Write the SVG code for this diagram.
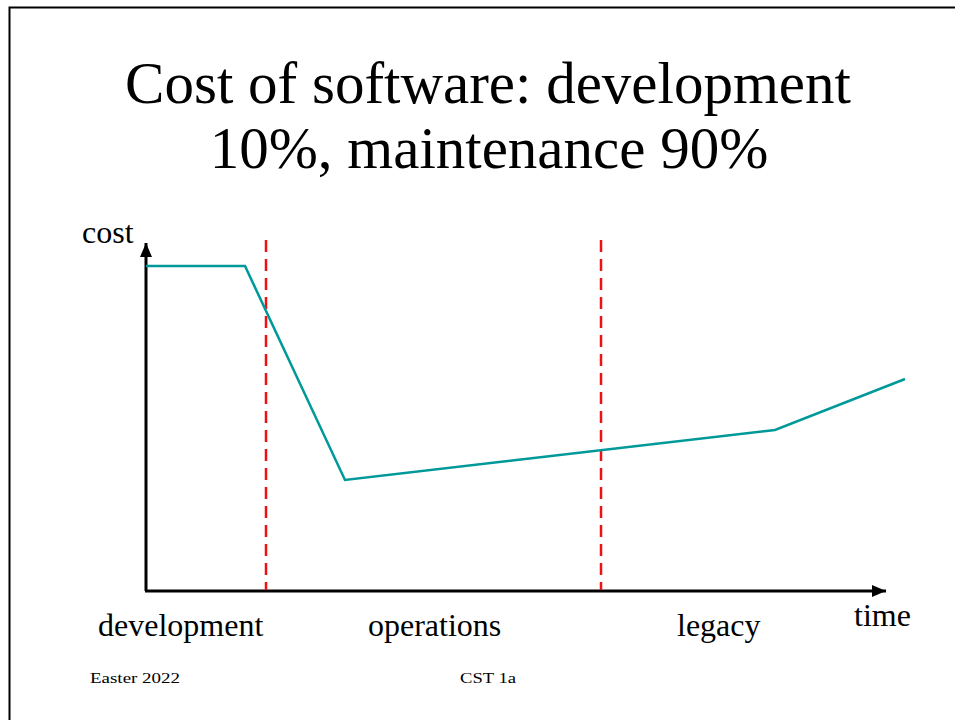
<svg xmlns="http://www.w3.org/2000/svg" width="955" height="720" viewBox="0 0 955 720">
<style>
.serif{font-family:"Liberation Serif","Times New Roman",serif;fill:#000}
.t{font-size:59px}
.l{font-size:32px}
.f{font-size:15px}
.ax{stroke:#000;stroke-width:3;fill:none}
.dash{stroke:#ee1111;stroke-width:2.5;stroke-dasharray:12 7;fill:none}
.curve{stroke:#009999;stroke-width:2.5;fill:none;stroke-linejoin:miter}
</style>
<defs>
<marker id="ah2" viewBox="0 0 14 12" refX="14" refY="6" markerWidth="14" markerHeight="12" orient="auto" markerUnits="userSpaceOnUse">
<path d="M0,0 L14,6 L0,12 z" fill="#000"/>
</marker>
</defs>
<rect x="0" y="0" width="955" height="720" fill="#fff"/>
<path d="M9.5,720 V7.5 H955" stroke="#000" stroke-width="2" fill="none"/>
<g id="title">
<text class="serif t" x="488" y="103" text-anchor="middle">Cost of software: development</text>
<text class="serif t" x="489" y="168" text-anchor="middle">10%, maintenance 90%</text>
</g>
<g id="connectors">
<line class="ax" x1="146" y1="591" x2="146" y2="243" marker-end="url(#ah2)"/>
<line class="ax" x1="145" y1="591" x2="886" y2="591" marker-end="url(#ah2)"/>
<line class="dash" x1="266" y1="240" x2="266" y2="590"/>
<line class="dash" x1="601" y1="240" x2="601" y2="590"/>
<polyline class="curve" points="146,266 245,266 345,480 775,430 905,379"/>
</g>
<g id="labels">
<text class="serif l" x="82" y="243">cost</text>
<text class="serif l" x="854" y="626">time</text>
<text class="serif l" x="98" y="636">development</text>
<text class="serif l" x="368" y="636">operations</text>
<text class="serif l" x="677" y="636">legacy</text>
</g>
<g id="footer">
<text class="serif f" x="90" y="683" textLength="90" lengthAdjust="spacingAndGlyphs">Easter 2022</text>
<text class="serif f" x="460" y="683" textLength="56" lengthAdjust="spacingAndGlyphs">CST 1a</text>
</g>
</svg>
